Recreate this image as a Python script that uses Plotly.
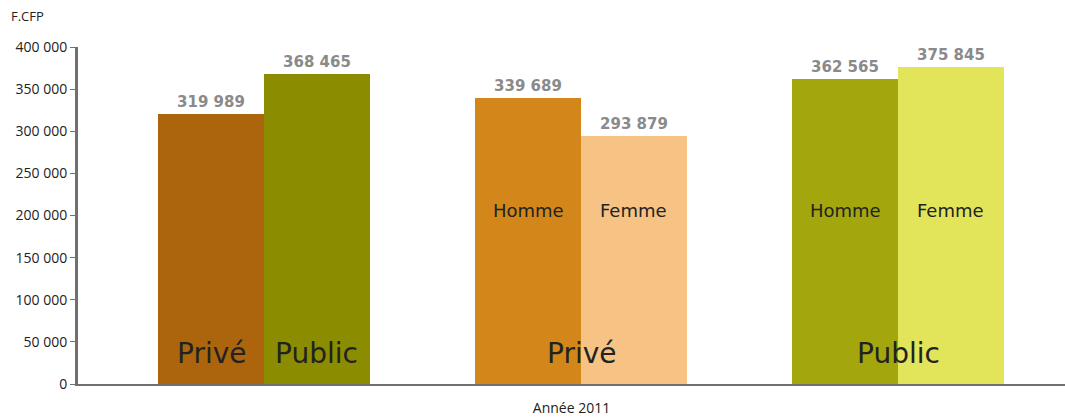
import plotly.graph_objects as go

# Data
bar_labels = ["Privé", "Public", "Homme", "Femme", "Homme", "Femme"]
group_labels = ["", "Privé", "Public"]
values = [319989, 368465, 339689, 293879, 362565, 375845]
colors = ["#AD650D", "#8C8C00", "#D3871B", "#F6C384", "#A4A60E", "#E2E45A"]
y_ticks = [0, 50000, 100000, 150000, 200000, 250000, 300000, 350000, 400000]
y_ticklabels = ["0", "50 000", "100 000", "150 000", "200 000", "250 000", "300 000", "350 000", "400 000"]
x_title = "Année 2011"
y_unit = "F.CFP"

positions = [0, 1, 3, 4, 6, 7]

def fmt(v):
    return f"{v:,}".replace(",", " ")

fig = go.Figure()
fig.add_trace(go.Bar(
    x=positions, y=values, width=[1]*6,
    marker=dict(color=colors, line=dict(width=0)),
    text=[fmt(v) for v in values], textposition="outside",
    textfont=dict(family="DejaVu Sans", size=15, color="#8a8a8a", weight="bold"),
    cliponaxis=False, hoverinfo="skip",
))

annotations = []
big_font = dict(family="DejaVu Sans", size=28, color="#222222")
small_font = dict(family="DejaVu Sans", size=18, color="#222222")
annotations.append(dict(x=positions[0], y=36000, text=bar_labels[0], showarrow=False, font=big_font, xref="x", yref="y"))
annotations.append(dict(x=positions[1], y=36000, text=bar_labels[1], showarrow=False, font=big_font, xref="x", yref="y"))
for i in range(2, 6):
    annotations.append(dict(x=positions[i], y=206000, text=bar_labels[i], showarrow=False, font=small_font, xref="x", yref="y"))
annotations.append(dict(x=(positions[2] + positions[3]) / 2, y=36000, text=group_labels[1], showarrow=False, font=big_font, xref="x", yref="y"))
annotations.append(dict(x=(positions[4] + positions[5]) / 2, y=36000, text=group_labels[2], showarrow=False, font=big_font, xref="x", yref="y"))
annotations.append(dict(x=0.0, y=1.0, text=y_unit, showarrow=False, xref="paper", yref="paper",
                        xanchor="left", yanchor="bottom", yshift=20, xshift=-69,
                        font=dict(family="Open Sans", size=13, color="#222222")))

fig.update_layout(
    width=1065, height=418,
    margin=dict(l=78, r=0, t=47, b=34),
    plot_bgcolor="white", paper_bgcolor="white",
    showlegend=False,
    bargap=0,
    annotations=annotations,
)

fig.update_xaxes(
    range=[-1.26, 8.08], showgrid=False, zeroline=False,
    showticklabels=False, ticks="",
    showline=True, linecolor="#707070", linewidth=2,
    title=dict(text=x_title, font=dict(family="Open Sans", size=14, color="#222222"), standoff=18),
    automargin=False,
)
fig.update_yaxes(
    range=[0, 400000], showgrid=False, zeroline=False,
    tickvals=y_ticks, ticktext=y_ticklabels,
    ticks="outside", ticklen=5, tickcolor="#707070", tickwidth=1,
    showline=True, linecolor="#707070", linewidth=3,
    tickfont=dict(family="Open Sans", size=14, color="#222222"),
    automargin=False,
)

fig.write_html("out.html", config={"displayModeBar": False},
               post_script="document.body.style.margin='0';")
